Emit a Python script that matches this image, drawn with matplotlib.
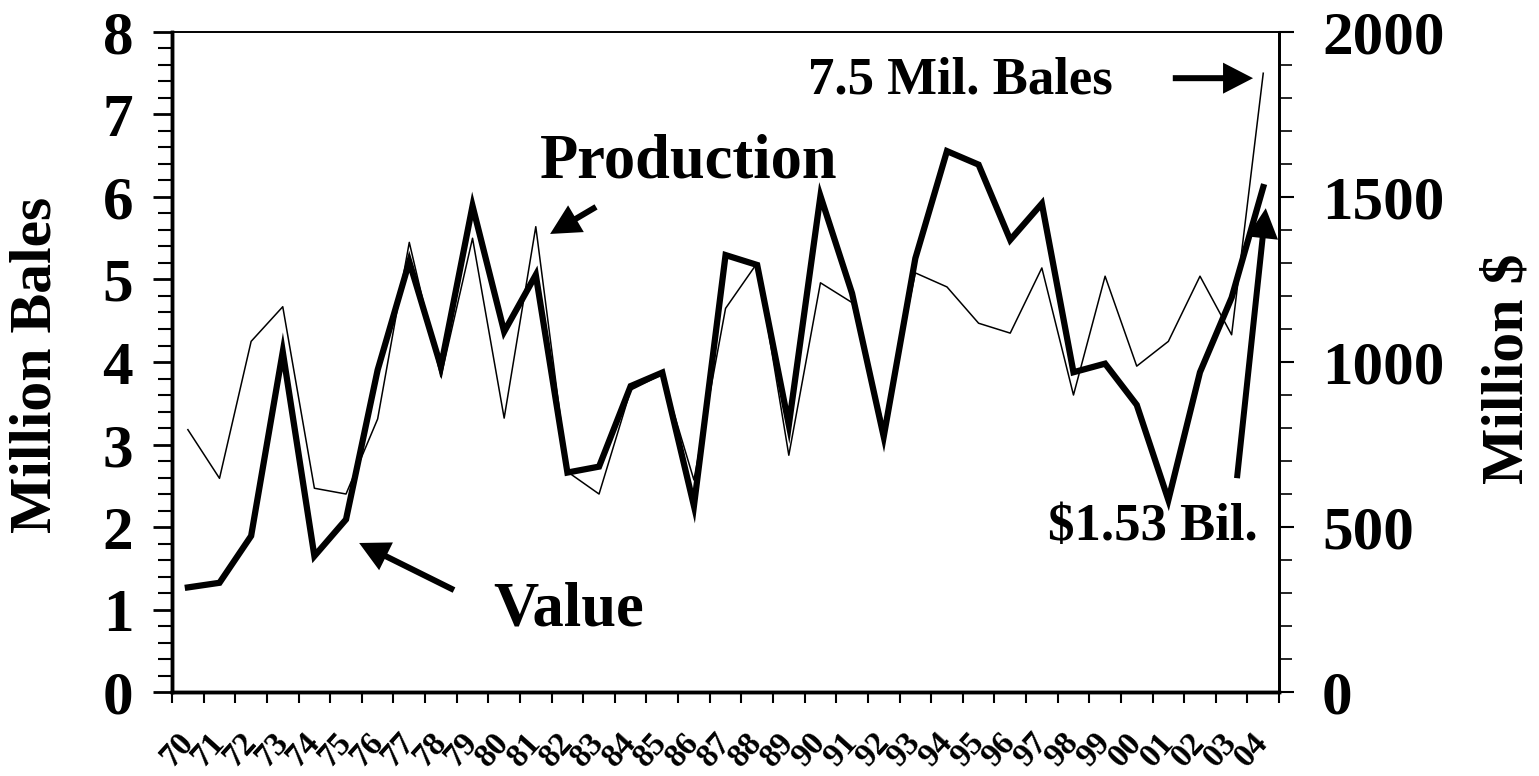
import numpy as np
import matplotlib
matplotlib.use('Agg')
from matplotlib import pyplot as plt
from matplotlib.ticker import MultipleLocator

plt.rcParams['font.family'] = ['Liberation Serif', 'DejaVu Serif']
plt.rcParams['font.weight'] = 'bold'

# crop years 1970 - 2004
years = ['70', '71', '72', '73', '74', '75', '76', '77', '78', '79',
         '80', '81', '82', '83', '84', '85', '86', '87', '88', '89',
         '90', '91', '92', '93', '94', '95', '96', '97', '98', '99',
         '00', '01', '02', '03', '04']

# production, million bales (left axis)
production = [3.18, 2.59, 4.25, 4.67, 2.47, 2.40, 3.31, 5.45, 3.82, 5.50,
              3.32, 5.64, 2.67, 2.40, 3.66, 3.85, 2.57, 4.65, 5.20, 2.87,
              4.96, 4.72, 3.22, 5.08, 4.91, 4.47, 4.35, 5.14, 3.60, 5.04,
              3.95, 4.25, 5.04, 4.33, 7.50]

# value, million $ (right axis)
value = [317, 331, 473, 1031, 412, 523, 976, 1304, 986, 1473,
         1092, 1264, 665, 683, 927, 968, 564, 1324, 1294, 809,
         1503, 1208, 774, 1314, 1639, 1598, 1370, 1480, 969, 995,
         870, 582, 969, 1195, 1530]

x = np.arange(len(years))

fig = plt.figure(figsize=(15.39, 7.76), dpi=100)
ax = fig.add_axes([0.1118, 0.1082, 0.7193, 0.8506])
ax2 = ax.twinx()

ax.plot(x, production, color='black', lw=1.1)
ax2.plot(x, value, color='black', lw=4.5, solid_joinstyle='miter')

ax.set_xlim(-0.5, len(years) - 0.5)
ax.set_ylim(0, 8)
ax2.set_ylim(0, 2000)

# left axis
ax.yaxis.set_major_locator(MultipleLocator(1))
ax.yaxis.set_minor_locator(MultipleLocator(0.2))
ax.tick_params(axis='y', which='major', direction='out', length=14, width=2,
               labelsize=44, pad=14)
ax.tick_params(axis='y', which='minor', direction='out', length=10, width=1.5)

# right axis
ax2.yaxis.set_major_locator(MultipleLocator(500))
ax2.yaxis.set_minor_locator(MultipleLocator(100))
ax2.tick_params(axis='y', which='major', direction='out', length=11, width=1.5,
                labelsize=44, pad=20)
ax2.tick_params(axis='y', which='minor', direction='out', length=9, width=1.2)

# x axis: ticks between categories, labels at centers
ax.set_xticks(np.arange(len(years) + 1) - 0.5)
ax.set_xticklabels([])
ax.set_xticks(x, minor=True)
ax.set_xticklabels(years, minor=True, rotation=48, ha='right', va='center',
                   rotation_mode='anchor', fontsize=24)
ax.tick_params(axis='x', which='major', direction='out', length=8, width=1.5)
ax.tick_params(axis='x', which='minor', length=0, pad=33)

for a in (ax, ax2):
    a.spines['left'].set_linewidth(2.5)
    a.spines['bottom'].set_linewidth(2.5)
    a.spines['top'].set_linewidth(1.2)
    a.spines['right'].set_linewidth(2)

fig.text(0.0234, 0.53, 'Million Bales', rotation=90, fontsize=43,
         ha='center', va='center')
fig.text(0.98, 0.525, 'Million $', rotation=90, fontsize=43,
         ha='center', va='center')

# annotations - filled arrows, no outline
arrow = dict(arrowstyle='simple,head_length=0.6,head_width=0.62,tail_width=0.12',
             lw=0, color='black', mutation_scale=36, shrinkA=0, shrinkB=0)

ax.text(0.467, 0.8015, 'Production', transform=ax.transAxes, fontsize=45,
        ha='center', va='center')
ax.annotate('', xy=(0.3415, 0.694), xytext=(0.383, 0.735),
            xycoords='axes fraction', textcoords='axes fraction', arrowprops=arrow)

ax.text(0.3586, 0.124, 'Value', transform=ax.transAxes, fontsize=45,
        ha='center', va='center')
ax.annotate('', xy=(0.169, 0.2258), xytext=(0.2547, 0.1545),
            xycoords='axes fraction', textcoords='axes fraction', arrowprops=arrow)

ax.text(0.712, 0.927, '7.5 Mil. Bales', transform=ax.transAxes, fontsize=38,
        ha='center', va='center')
ax.annotate('', xy=(0.9765, 0.930), xytext=(0.904, 0.930),
            xycoords='axes fraction', textcoords='axes fraction', arrowprops=arrow)

ax.text(0.8862, 0.25, '$1.53 Bil.', transform=ax.transAxes, fontsize=38,
        ha='center', va='center')
ax.annotate('', xy=(0.988, 0.733), xytext=(0.962, 0.324),
            xycoords='axes fraction', textcoords='axes fraction', arrowprops=arrow)

fig.savefig('out.png', dpi=100)
